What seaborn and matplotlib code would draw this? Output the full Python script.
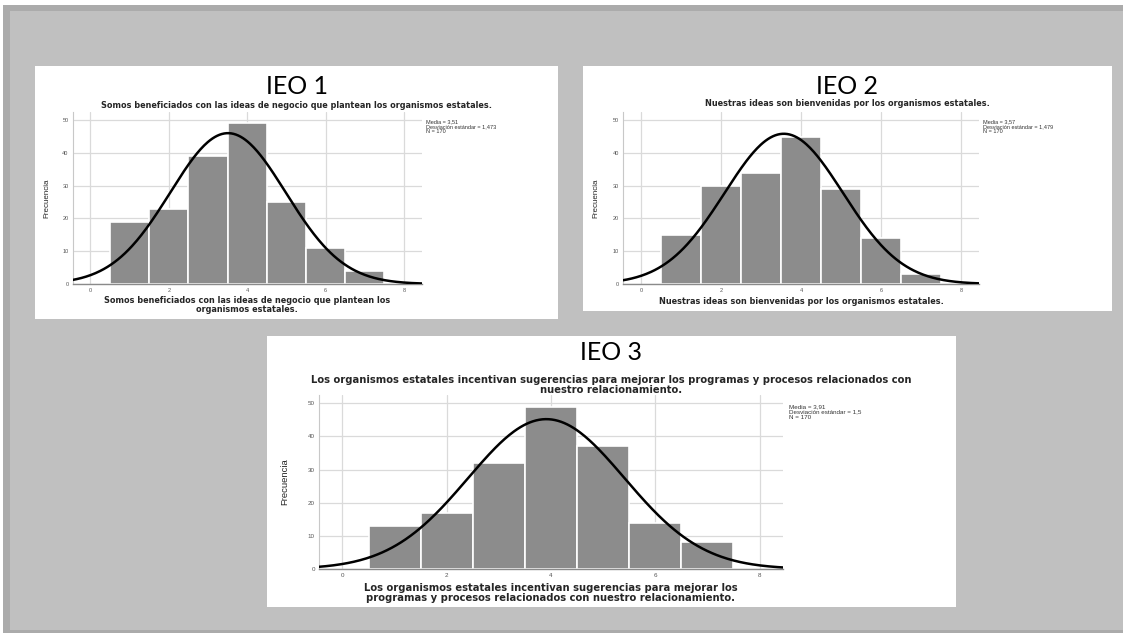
import numpy as np
import pandas as pd
import matplotlib.pyplot as plt
import seaborn as sns
from matplotlib.patches import Rectangle

W, H = 1123, 633

# answer levels and their frequencies
levels = [1, 2, 3, 4, 5, 6, 7]
ieo1_counts = [19, 23, 39, 49, 25, 11, 4]
ieo2_counts = [15, 30, 34, 45, 29, 14, 3]
ieo3_counts = [13, 17, 32, 49, 37, 14, 8]

# mean, std dev, N printed next to each chart
ieo1_stats = [3.51, 1.473, 170]
ieo2_stats = [3.57, 1.479, 170]
ieo3_stats = [3.91, 1.5, 170]

panel_names = ["IEO 1", "IEO 2", "IEO 3"]
titles = [
    "Somos beneficiados con las ideas de negocio que plantean los organismos estatales.",
    "Nuestras ideas son bienvenidas por los organismos estatales.",
    "Los organismos estatales incentivan sugerencias para mejorar los programas y procesos relacionados con\nnuestro relacionamiento.",
]
xlabels = [
    "Somos beneficiados con las ideas de negocio que plantean los\norganismos estatales.",
    "Nuestras ideas son bienvenidas por los organismos estatales.",
    "Los organismos estatales incentivan sugerencias para mejorar los\nprogramas y procesos relacionados con nuestro relacionamiento.",
]
stat_texts = [
    "Media = 3,51\nDesviación estándar = 1,473\nN = 170",
    "Media = 3,57\nDesviación estándar = 1,479\nN = 170",
    "Media = 3,91\nDesviación estándar = 1,5\nN = 170",
]
x_ticks = [0, 2, 4, 6, 8]
y_ticks = [0, 10, 20, 30, 40, 50]

sns.set_style("white")
plt.rcParams['font.family'] = ['Liberation Sans', 'DejaVu Sans']

fig = plt.figure(figsize=(W / 100, H / 100), dpi=100)
fig.patch.set_facecolor("white")


def box(x0, y0, x1, y1, color):
    # pixel box (top-left origin) -> figure fraction
    fig.add_artist(Rectangle((x0 / W, 1 - y1 / H), (x1 - x0) / W, (y1 - y0) / H,
                             transform=fig.transFigure, facecolor=color,
                             edgecolor="none", zorder=-5))


def axes_px(x0, y0, x1, y1):
    return fig.add_axes([x0 / W, 1 - y1 / H, (x1 - x0) / W, (y1 - y0) / H])


# grey slide background with darker border
box(3, 5, W, H, "#ababab")
box(10, 11, W, 630, "#c0c0c0")

# white picture panels
panels = [(35, 66, 558, 319), (583, 66, 1112, 311), (267, 336, 956, 607)]
for p in panels:
    box(*p, "white")

axes_boxes = [(72.7, 112, 421.7, 284), (623, 112, 979, 284), (319, 395, 783, 569)]
all_counts = [ieo1_counts, ieo2_counts, ieo3_counts]
all_stats = [ieo1_stats, ieo2_stats, ieo3_stats]

# text placement per panel: name y, title y, xlabel y (pixels)
name_y = [86, 86, 353]
title_y = [105, 104, 385]
title_fs = [5.9, 5.9, 7.2]
xlabel_y = [305, 301, 593]
small_fs = [4.0, 4.0, 4.5]

for i in range(3):
    ax = axes_px(*axes_boxes[i])
    ax.set_facecolor("none")
    mean, sd, n = all_stats[i]
    df = pd.DataFrame({"nivel": levels, "frecuencia": all_counts[i]})
    sns.histplot(data=df, x="nivel", weights="frecuencia", discrete=True, shrink=1,
                 ax=ax, color="#8c8c8c", edgecolor="white", linewidth=1.2,
                 alpha=1, zorder=2)
    xs = np.linspace(-0.5, 8.5, 300)
    ys = n / (sd * np.sqrt(2 * np.pi)) * np.exp(-0.5 * ((xs - mean) / sd) ** 2)
    sns.lineplot(x=xs, y=ys, ax=ax, color="black", linewidth=1.8, zorder=3)

    ax.set_xlim(-0.45, 8.45)
    ax.set_ylim(0, 52.5)
    ax.set_xticks(x_ticks)
    ax.set_yticks(y_ticks)
    ax.set_axisbelow(True)
    ax.grid(True, color="#dadada", linewidth=0.9)
    ax.tick_params(length=0, labelsize=small_fs[i], labelcolor="#555555", pad=3)
    for s in ["top", "right"]:
        ax.spines[s].set_visible(False)
    ax.spines["left"].set_color("#c8c8c8")
    ax.spines["bottom"].set_color("#8a8a8a")
    ax.spines["bottom"].set_linewidth(1.0)

    ax.set_ylabel("Frecuencia", fontsize=5.8 if i < 2 else 6.8,
                  family=["Liberation Sans Narrow", "Liberation Sans"])
    ax.yaxis.set_label_coords(-0.065, 0.5)

    x0, y0, x1, y1 = axes_boxes[i]
    ax.set_xlabel(xlabels[i], fontsize=title_fs[i], fontweight="bold",
                  family="DejaVu Sans", linespacing=0.92)
    ax.xaxis.set_label_coords(0.5, (y1 - xlabel_y[i]) / (y1 - y0))
    ax.xaxis.label.set_va("center")

    ax.text(1.012, 0.96 if i < 2 else 0.945, stat_texts[i], transform=ax.transAxes,
            va="top", ha="left", fontsize=small_fs[i], color="#333333", linespacing=1.0)

    px0, py0, px1, py1 = panels[i]
    cx = (px0 + px1) / 2 / W
    fig.text(cx, 1 - name_y[i] / H, panel_names[i], fontsize=18, family="Lato",
             ha="center", va="center", color="black")
    fig.text(cx, 1 - title_y[i] / H, titles[i], fontsize=title_fs[i], fontweight="bold",
             family="DejaVu Sans", ha="center", va="center", linespacing=0.92)

fig.savefig("out.png", dpi=100, facecolor=fig.get_facecolor())
